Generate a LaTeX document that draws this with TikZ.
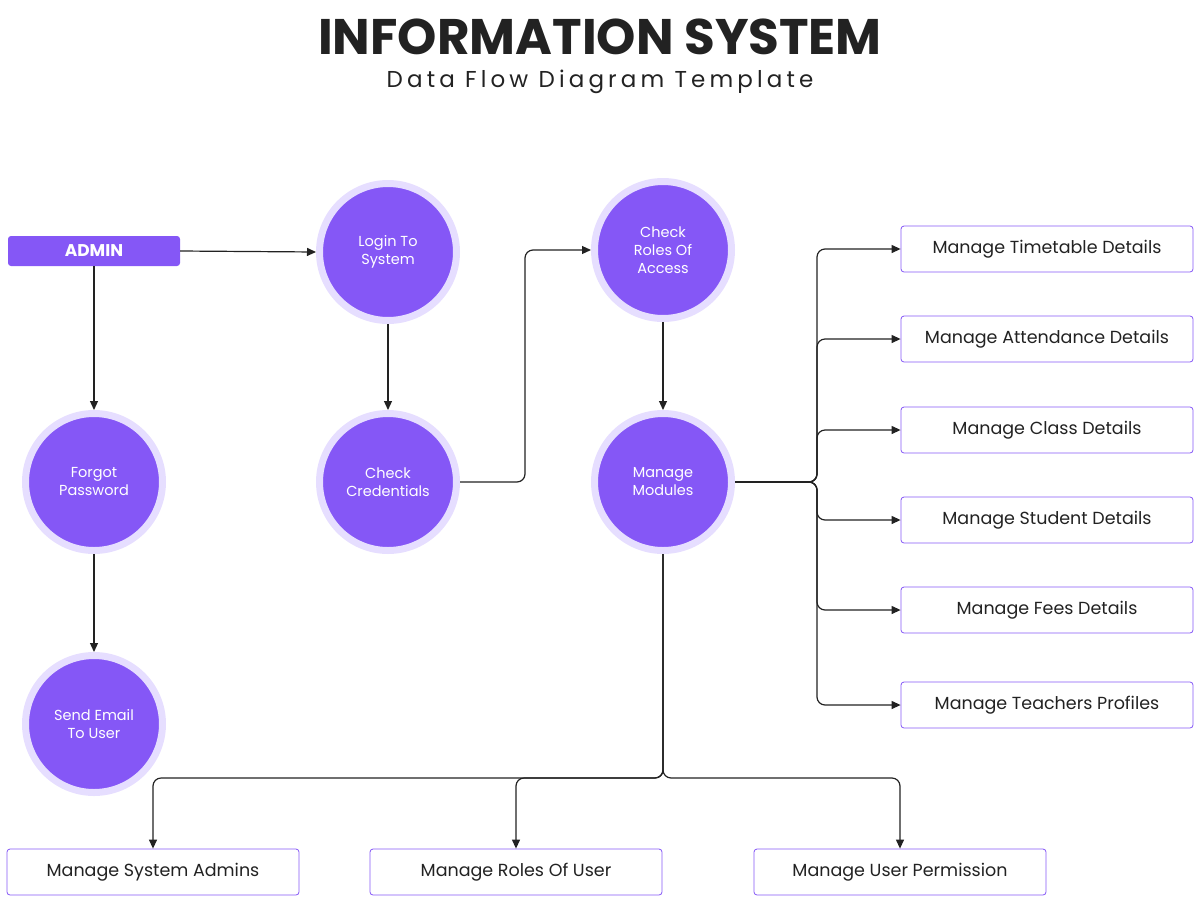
\documentclass[tikz,border=0pt]{standalone}
\usepackage{fontspec}
\setmainfont{Poppins}
\usetikzlibrary{arrows.meta}
\definecolor{pur}{HTML}{8557F6}
\definecolor{ring}{HTML}{E6DEFF}
\definecolor{ink}{HTML}{222222}
\begin{document}
\begin{tikzpicture}[x=1pt,y=-1pt,
 proc/.style={circle,fill=pur,draw=ring,line width=7pt,minimum size=137pt,inner sep=0pt,text=white,align=center,font=\fontsize{14.5}{18}\selectfont},
 box/.style={draw=pur,rounded corners=3pt,line width=0.8pt,minimum width=292pt,minimum height=46pt,text=ink,font=\fontsize{17.5}{20}\selectfont},
 arr/.style={draw=ink,line width=1.2pt,-{Triangle[length=9pt,width=8pt]},rounded corners=8pt}]
\useasboundingbox (0,0) rectangle (1200,903);
\node[text=ink,font=\fontsize{50}{56}\bfseries\selectfont] (t) at (600,37) {INFORMATION SYSTEM};
\node[text=ink,font=\fontsize{23}{26}\selectfont\addfontfeature{LetterSpace=18}] (st) at (600,82) {Data Flow Diagram Template};
\node[fill=pur,rounded corners=3pt,minimum width=172pt,minimum height=30pt,inner sep=0pt,text=white,font=\fontsize{17}{20}\bfseries\selectfont] (admin) at (94,251) {ADMIN};
\node[proc] (login) at (388,252) {Login To\\System};
\node[proc] (roles) at (663,250) {Check\\Roles Of\\Access};
\node[proc] (forgot) at (94,482) {Forgot\\Password};
\node[proc] (cred) at (388,482) {Check\\Credentials};
\node[proc] (mod) at (663,482) {Manage\\Modules};
\node[proc] (email) at (94,724) {Send Email\\To User};
\node[box] (b1) at (1047,249) {Manage Timetable Details};
\node[box] (b2) at (1047,339) {Manage Attendance Details};
\node[box] (b3) at (1047,430) {Manage Class Details};
\node[box] (b4) at (1047,520) {Manage Student Details};
\node[box] (b5) at (1047,610) {Manage Fees Details};
\node[box] (b6) at (1047,705) {Manage Teachers Profiles};
\node[box] (c1) at (153,872) {Manage System Admins};
\node[box] (c2) at (516,872) {Manage Roles Of User};
\node[box] (c3) at (900,872) {Manage User Permission};
\draw[arr] (admin.east) -- (login.west);
\draw[arr] (admin.south) -- (forgot.north);
\draw[arr] (forgot.south) -- (email.north);
\draw[arr] (login.south) -- (cred.north);
\draw[arr] (cred.east) -- (525,482) -- (525,250) -- (roles.west);
\draw[arr] (roles.south) -- (mod.north);
\foreach \b in {b1,b2,b3,b4,b5,b6}
  \draw[arr] (mod.east) -- (817,482) -- (817,0|-\b.west) -- (\b.west);
\foreach \c in {c1,c2,c3}
  \draw[arr] (mod.south) -- (663,778) -- (\c.north|-0,778) -- (\c.north);
\end{tikzpicture}
\end{document}
